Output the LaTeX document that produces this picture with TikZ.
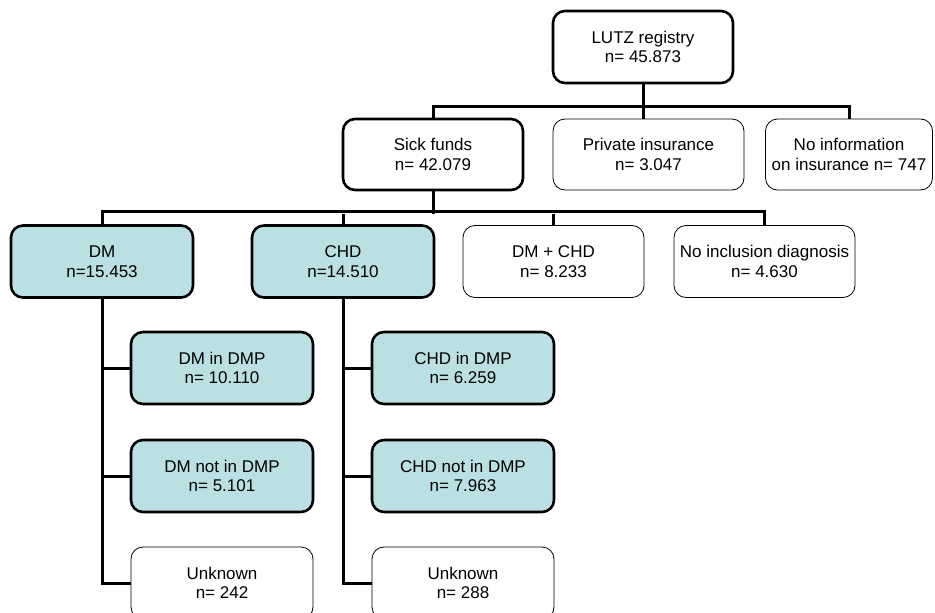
\documentclass[tikz,border=0pt]{standalone}
\usepackage{fontspec}
\setmainfont{Liberation Sans}
\definecolor{dmpfill}{RGB}{187,224,227}

\begin{document}
\begin{tikzpicture}[x=1pt,y=-1pt,
  box/.style={draw,rounded corners=12pt,align=center,inner sep=0pt,
    minimum width=182pt,minimum height=72pt,
    font=\fontsize{17}{19.5}\selectfont},
  mainbox/.style={box,line width=2.6pt,fill=white},
  plainbox/.style={box,line width=0.8pt,fill=white},
  dmpbox/.style={box,line width=2.6pt,fill=dmpfill},
  link/.style={line width=3pt}]
\useasboundingbox (0,0) rectangle (935,613);

% registry and insurance
\node[mainbox,minimum width=180pt] (lutz) at (643,47) {LUTZ registry\\n= 45.873};
\node[mainbox,minimum width=180pt,minimum height=71pt] (sick) at (433,154.5) {Sick funds\\n= 42.079};
\node[plainbox,minimum width=191pt,minimum height=71pt] (priv) at (648.5,154.5) {Private insurance\\n= 3.047};
\node[plainbox,minimum width=167pt,minimum height=71pt] (noinfo) at (849,154.5) {No information\\on insurance n= 747};

% diagnoses
\node[dmpbox] (dm) at (102,261.5) {DM\\n=15.453};
\node[dmpbox] (chd) at (343,261.5) {CHD\\n=14.510};
\node[plainbox,minimum width=181pt] (dmchd) at (553.5,261.5) {DM + CHD\\n= 8.233};
\node[plainbox,minimum width=181pt] (noincl) at (764.5,261.5) {No inclusion diagnosis\\n= 4.630};

% DMP status
\node[dmpbox] (dmin) at (222,368) {DM in DMP\\n= 10.110};
\node[dmpbox] (dmnot) at (222,476) {DM not in DMP\\n= 5.101};
\node[plainbox] (dmunk) at (222,583) {Unknown\\n= 242};
\node[dmpbox] (chdin) at (463,368) {CHD in DMP\\n= 6.259};
\node[dmpbox] (chdnot) at (463,476) {CHD not in DMP\\n= 7.963};
\node[plainbox] (chdunk) at (463,583) {Unknown\\n= 288};

\draw[link] (lutz.south) -- (lutz.south |- priv.north);
\draw[link] (sick.north) -- ++(0,-11) -| (noinfo.north);

\draw[link] (sick.south) -- ++(0,23) coordinate (split);
\draw[link] (dm.north) -- ++(0,-13) -| (noincl.north);
\draw[link] (chd.north) -- (chd.north |- split);
\draw[link] (dmchd.north) -- (dmchd.north |- split);

\draw[link] (dm.south) |- (dmunk.west);
\draw[link] (dmin.west) -- (dmin.west -| dm.south);
\draw[link] (dmnot.west) -- (dmnot.west -| dm.south);
\draw[link] (chd.south) |- (chdunk.west);
\draw[link] (chdin.west) -- (chdin.west -| chd.south);
\draw[link] (chdnot.west) -- (chdnot.west -| chd.south);
\end{tikzpicture}
\end{document}
